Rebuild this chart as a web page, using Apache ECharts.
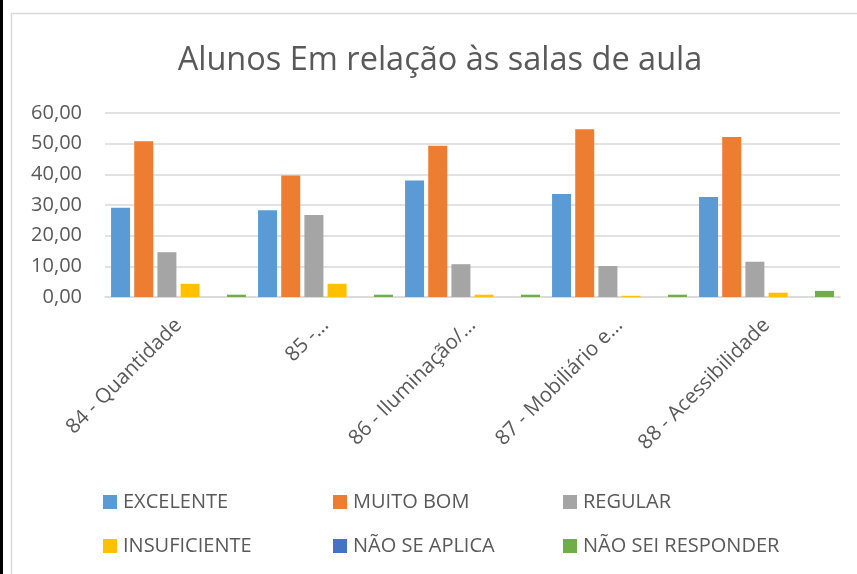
<!DOCTYPE html>
<html>
<head>
<meta charset="utf-8">
<style>
  html, body { margin: 0; padding: 0; background: #fff; }
  #chart { width: 857px; height: 574px; }
</style>
<script src="https://cdn.jsdelivr.net/npm/echarts@6/dist/echarts.min.js"></script>
</head>
<body>
<div id="chart"></div>
<script>
// Categories (questions) and answer distribution (%)
const categories = ['84 - Quantidade', '85 -...', '86 - Iluminação/...', '87 - Mobiliário e...', '88 - Acessibilidade'];
const seriesNames = ['EXCELENTE', 'MUITO BOM', 'REGULAR', 'INSUFICIENTE', 'NÃO SE APLICA', 'NÃO SEI RESPONDER'];
const excelente = [29.1, 28.3, 38.0, 33.6, 32.6];
const muitoBom = [50.8, 39.6, 49.3, 54.7, 52.2];
const regular = [14.6, 26.7, 10.7, 10.1, 11.5];
const insuficiente = [4.3, 4.3, 0.75, 0.4, 1.4];
const naoSeAplica = [0, 0, 0, 0, 0];
const naoSeiResponder = [0.75, 0.75, 0.75, 0.75, 2.0];
const yTicks = { min: 0, max: 60, step: 10 };

const colors = ['#5B9BD5', '#ED7D31', '#A5A5A5', '#FFC000', '#4472C4', '#70AD47'];
const allValues = [excelente, muitoBom, regular, insuficiente, naoSeAplica, naoSeiResponder];
const FONT = '"Open Sans", sans-serif';
const TXT = '#595959';

const chart = echarts.init(document.getElementById('chart'), null, { renderer: 'canvas' });

// Legend laid out as a 3 x 2 table: one legend block per entry
const legendCols = [103, 333, 563];
const legendRows = [492, 536];
const legends = seriesNames.map((name, i) => ({
  data: [name],
  left: legendCols[i % 3],
  top: legendRows[Math.floor(i / 3)],
  padding: 0,
  itemWidth: 14,
  itemHeight: 14,
  icon: 'rect',
  textStyle: { fontFamily: FONT, fontSize: 20, color: TXT, padding: [0, 0, 0, 1] }
}));

chart.setOption({
  animation: false,
  color: colors,
  textStyle: { fontFamily: FONT },
  graphic: [
    { type: 'rect', shape: { x: 0, y: 0, width: 3, height: 574 }, style: { fill: '#000' }, silent: true },
    { type: 'rect', shape: { x: 11.5, y: 13.5, width: 900, height: 700 }, style: { fill: 'none', stroke: '#D9D9D9', lineWidth: 1.5 }, silent: true }
  ],
  title: {
    text: 'Alunos Em relação às salas de aula',
    left: 435,
    textAlign: 'center',
    top: 39,
    textStyle: { fontFamily: FONT, fontSize: 32.5, fontWeight: 'normal', color: TXT }
  },
  legend: legends,
  grid: { left: 105, right: 17, top: 113, bottom: 277, containLabel: false },
  xAxis: {
    type: 'category',
    data: categories,
    axisLine: { show: true, lineStyle: { color: '#D9D9D9', width: 1.5 } },
    axisTick: { show: false },
    axisLabel: { rotate: 45, margin: 25, interval: 0, fontFamily: FONT, fontSize: 20.5, color: TXT }
  },
  yAxis: {
    type: 'value',
    min: yTicks.min,
    max: yTicks.max,
    interval: yTicks.step,
    axisLine: { show: false },
    axisTick: { show: false },
    splitLine: { lineStyle: { color: '#D9D9D9', width: 1.5 } },
    axisLabel: {
      margin: 23,
      fontFamily: FONT, fontSize: 20, color: TXT,
      formatter: v => v.toFixed(2).replace('.', ',')
    }
  },
  series: seriesNames.map((name, i) => ({
    name: name,
    type: 'bar',
    data: allValues[i],
    barWidth: 19,
    barGap: '22%',
    itemStyle: { color: colors[i] }
  }))
});
</script>
</body>
</html>
